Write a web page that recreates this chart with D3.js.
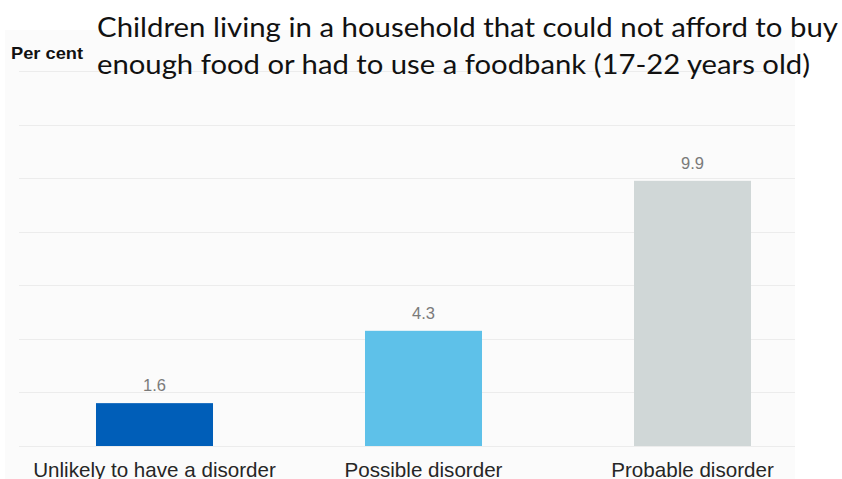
<!DOCTYPE html>
<html>
<head>
<meta charset="utf-8">
<script src="https://cdn.jsdelivr.net/npm/d3@7/dist/d3.min.js"></script>
<style>
  html, body { margin: 0; padding: 0; background: #ffffff; }
  svg { display: block; }
</style>
</head>
<body>
<div id="chart"></div>
<script>
// ---- Data ----
const categories = ["Unlikely to have a disorder", "Possible disorder", "Probable disorder"];
const values = [1.6, 4.3, 9.9];
const valueLabels = ["1.6", "4.3", "9.9"];
const colors = ["#005EB8", "#5EC1E9", "#D0D7D7"];
const yTicks = [0, 2, 4, 6, 8, 10, 12, 14];
const titleLines = [
  "Children living in a household that could not afford to buy",
  "enough food or had to use a foodbank (17-22 years old)"
];
const yAxisLabel = "Per cent";

// ---- Layout ----
const W = 842, H = 479;
const svg = d3.select("#chart").append("svg")
  .attr("width", W).attr("height", H);

// panel background
svg.append("rect")
  .attr("x", 5).attr("y", 30).attr("width", 790).attr("height", H - 30)
  .attr("fill", "#fbfbfb");

const x = d3.scaleBand()
  .domain(categories)
  .range([20, 827])
  .paddingInner(0.565)
  .paddingOuter(0.2825);

const y = d3.scaleLinear()
  .domain([0, 14])
  .range([446, 71]);

// gridlines
svg.append("g")
  .selectAll("line")
  .data(yTicks)
  .join("line")
  .attr("x1", 19).attr("x2", 795)
  .attr("y1", d => Math.round(y(d)) + 0.5)
  .attr("y2", d => Math.round(y(d)) + 0.5)
  .attr("stroke", "#ececec")
  .attr("stroke-width", 1);

// bars
svg.append("g")
  .selectAll("rect")
  .data(values)
  .join("rect")
  .attr("x", (d, i) => x(categories[i]))
  .attr("y", d => y(d))
  .attr("width", x.bandwidth())
  .attr("height", d => y(0) - y(d))
  .attr("fill", (d, i) => colors[i]);

// value labels
svg.append("g")
  .selectAll("text")
  .data(values)
  .join("text")
  .attr("x", (d, i) => x(categories[i]) + x.bandwidth() / 2)
  .attr("y", d => y(d) - 12)
  .attr("text-anchor", "middle")
  .attr("font-family", "Liberation Sans, Arial, sans-serif")
  .attr("font-size", 16.5)
  .attr("fill", "#7a7a7a")
  .text((d, i) => valueLabels[i]);

// category labels
svg.append("g")
  .selectAll("text")
  .data(categories)
  .join("text")
  .attr("x", d => x(d) + x.bandwidth() / 2)
  .attr("y", 476.5)
  .attr("text-anchor", "middle")
  .attr("font-family", "Liberation Sans, Arial, sans-serif")
  .attr("font-size", 20.6)
  .attr("fill", "#262626")
  .text(d => d);

// y-axis label
svg.append("text")
  .attr("x", 11).attr("y", 59)
  .attr("font-family", "Liberation Sans, Arial, sans-serif")
  .attr("font-weight", "bold")
  .attr("font-size", 17)
  .attr("textLength", 72)
  .attr("lengthAdjust", "spacingAndGlyphs")
  .attr("fill", "#111")
  .text(yAxisLabel);

// title
const titleWidths = [741, 713];
svg.append("g")
  .selectAll("text")
  .data(titleLines)
  .join("text")
  .attr("x", 97)
  .attr("y", (d, i) => 37 + i * 37)
  .attr("font-family", "Lato, 'Open Sans', sans-serif")
  .attr("font-size", 27)
  .attr("fill", "#111")
  .attr("textLength", (d, i) => titleWidths[i])
  .attr("lengthAdjust", "spacingAndGlyphs")
  .text(d => d);
</script>
</body>
</html>
